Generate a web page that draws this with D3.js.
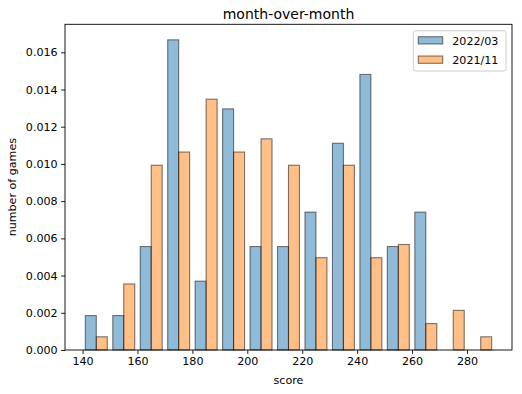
<!DOCTYPE html>
<html>
<head>
<meta charset="utf-8">
<script src="https://cdn.jsdelivr.net/npm/d3@7"></script>
<style>
  html, body { margin: 0; padding: 0; background: #fff; }
  svg { display: block; font-family: "DejaVu Sans", sans-serif; }
  .tick text { font-size: 11.1px; font-family: "DejaVu Sans", sans-serif; }
</style>
</head>
<body>
<div id="chart"></div>
<script>
// bin left edges (score), width 10
const binEdges = [140, 150, 160, 170, 180, 190, 200, 210, 220, 230, 240, 250, 260, 270, 280];
const binWidth = 10;
const seriesNames = ["2022/03", "2021/11"];
// density values
const values2203 = [0.00185, 0.00185, 0.00556, 0.01667, 0.00370, 0.01296, 0.00556, 0.00556, 0.00741, 0.01111, 0.01481, 0.00556, 0.00741, 0, 0];
const values2111 = [0.00071, 0.00355, 0.00993, 0.01064, 0.01348, 0.01064, 0.01135, 0.00993, 0.00496, 0.00993, 0.00496, 0.00567, 0.00142, 0.00213, 0.00071];
const xTicks = [140, 160, 180, 200, 220, 240, 260, 280];
const yTicks = [0, 0.002, 0.004, 0.006, 0.008, 0.010, 0.012, 0.014, 0.016];

const W = 522, H = 394;
const margin = {top: 24.3, right: 10, bottom: 44, left: 65};
const colors = ["#1f77b4", "#ff7f0e"];

const svg = d3.select("#chart").append("svg")
  .attr("width", W)
  .attr("height", H);

const x = d3.scaleLinear()
  .domain([133.6, 296.4])
  .range([margin.left, W - margin.right]);

const y = d3.scaleLinear()
  .domain([0, 0.017505])
  .range([H - margin.bottom, margin.top]);

// bars (rwidth 0.8, two series side by side in each bin)
const series = [values2203, values2111];
series.forEach((vals, s) => {
  svg.append("g")
    .selectAll("rect")
    .data(vals.map((v, i) => ({edge: binEdges[i], value: v})).filter(d => d.value > 0))
    .enter()
    .append("rect")
    .attr("x", d => x(d.edge + binWidth * (0.1 + 0.4 * s)))
    .attr("width", d => x(d.edge + binWidth * 0.4) - x(d.edge))
    .attr("y", d => y(d.value))
    .attr("height", d => y(0) - y(d.value))
    .attr("fill", colors[s])
    .attr("fill-opacity", 0.5)
    .attr("stroke", "#000")
    .attr("stroke-opacity", 0.5)
    .attr("stroke-width", 1.1);
});

// X axis
const xAxis = svg.append("g")
  .attr("transform", `translate(0, ${H - margin.bottom})`)
  .call(d3.axisBottom(x).tickValues(xTicks).tickSize(3.9).tickPadding(3.5).tickFormat(d3.format("d")));

// Y axis
const yAxis = svg.append("g")
  .attr("transform", `translate(${margin.left}, 0)`)
  .call(d3.axisLeft(y).tickValues(yTicks).tickSize(3.9).tickPadding(3.5).tickFormat(d3.format(".3f")));

[xAxis, yAxis].forEach(g => {
  g.attr("font-size", 11.1).attr("font-family", "DejaVu Sans");
  g.select(".domain").remove();
  g.selectAll(".tick line").attr("stroke", "#000").attr("stroke-width", 0.9);
  g.selectAll(".tick text").attr("fill", "#000");
});

// frame
svg.append("rect")
  .attr("x", margin.left)
  .attr("y", margin.top)
  .attr("width", W - margin.right - margin.left)
  .attr("height", H - margin.bottom - margin.top)
  .attr("fill", "none")
  .attr("stroke", "#000")
  .attr("stroke-width", 0.9);

// title and axis labels
svg.append("text")
  .attr("x", (margin.left + W - margin.right) / 2)
  .attr("y", 18.5)
  .attr("text-anchor", "middle")
  .style("font-size", "14px")
  .text("month-over-month");

svg.append("text")
  .attr("x", (margin.left + W - margin.right) / 2)
  .attr("y", 384)
  .attr("text-anchor", "middle")
  .style("font-size", "11.1px")
  .text("score");

svg.append("text")
  .attr("transform", `translate(16, ${(margin.top + H - margin.bottom) / 2}) rotate(-90)`)
  .attr("text-anchor", "middle")
  .style("font-size", "11.1px")
  .text("number of games");

// legend
const legend = svg.append("g").attr("transform", "translate(413.3, 30.7)");
legend.append("rect")
  .attr("width", 92.7)
  .attr("height", 40.3)
  .attr("rx", 2.5)
  .attr("fill", "#fff")
  .attr("fill-opacity", 0.8)
  .attr("stroke", "#ccc");

seriesNames.forEach((name, i) => {
  const row = legend.append("g").attr("transform", `translate(5, ${6 + i * 19.3})`);
  row.append("rect")
    .attr("width", 24.4)
    .attr("height", 7.3)
    .attr("fill", colors[i])
    .attr("fill-opacity", 0.5)
    .attr("stroke", "#000")
    .attr("stroke-opacity", 0.5)
    .attr("stroke-width", 1.1);
  row.append("text")
    .attr("x", 34)
    .attr("y", 7.9)
    .style("font-size", "11.1px")
    .text(name);
});
</script>
</body>
</html>
